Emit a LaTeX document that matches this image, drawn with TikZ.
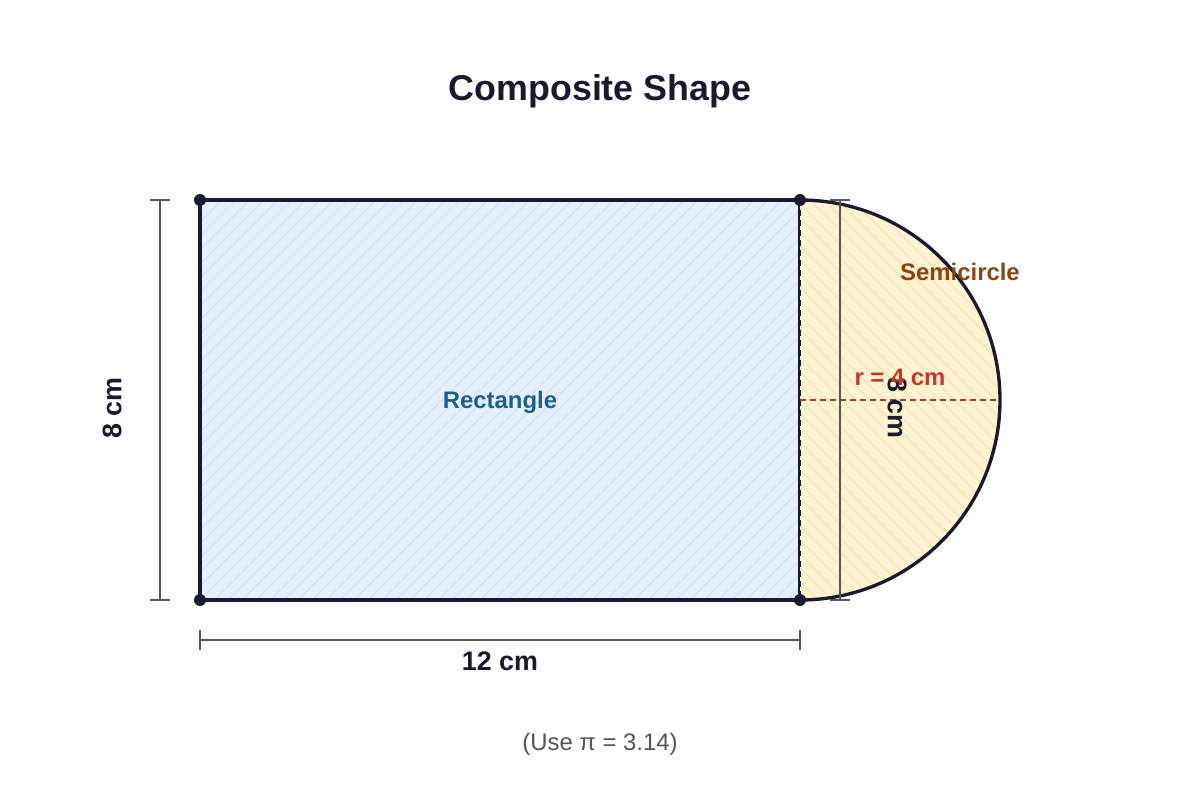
\documentclass[tikz,border=0pt]{standalone}
\usepackage{fontspec}
\setmainfont{Liberation Sans}
\definecolor{navy}{HTML}{1A1A2E}
\definecolor{rectfill}{HTML}{E4F1FC}
\definecolor{recthatch}{HTML}{D4E4F2}
\definecolor{semifill}{HTML}{FFF3D1}
\definecolor{semihatch}{HTML}{F2E2BC}
\definecolor{recttext}{HTML}{1F5F8B}
\definecolor{semitext}{HTML}{8B4513}
\definecolor{rtext}{HTML}{C0392B}
\definecolor{rline}{HTML}{A93C2E}
\definecolor{dimgray}{HTML}{555555}
\begin{document}
\begin{tikzpicture}[x=0.02cm,y=-0.02cm,
  dimline/.style={draw=dimgray,line width=0.9pt},
  outline/.style={draw=navy,line width=1.9pt},
  cornerdot/.style={circle,fill=navy,inner sep=0pt,minimum size=6.8pt},
  dimlabel/.style={font=\fontsize{15.3}{18}\selectfont\bfseries,text=navy},
  shapelabel/.style={font=\fontsize{13.6}{16}\selectfont\bfseries}]
\useasboundingbox (0,0) rectangle (1200,800);
% rectangle
\fill[rectfill] (200,200) rectangle (800,600);
\begin{scope}
  \clip (200,200) rectangle (800,600);
  \foreach \k in {-420,-406,...,620}
    \draw[recthatch,line width=0.6pt] (200+\k,600) -- (600+\k,200);
\end{scope}
\draw[outline] (200,200) rectangle (800,600);
% semicircle
\fill[semifill] (800,200) arc[start angle=-90,end angle=90,radius=200] -- cycle;
\begin{scope}
  \clip (800,200) arc[start angle=-90,end angle=90,radius=200] -- cycle;
  \foreach \k in {-420,-406,...,420}
    \draw[semihatch,line width=0.6pt] (600+\k,200) -- (1000+\k,600);
\end{scope}
\draw[outline] (800,200) arc[start angle=-90,end angle=90,radius=200];
\draw[navy,line width=1.3pt,dash pattern=on 3.4pt off 2.3pt] (800,200) -- (800,600);
% radius
\coordinate (ctr) at (800,400);
\coordinate (rim) at (1000,400);
\draw[rline,line width=0.9pt,dash pattern=on 3.4pt off 2.3pt] (ctr) -- (rim);
% dots
\node[cornerdot] (tl) at (200,200) {};
\node[cornerdot] (tr) at (800,200) {};
\node[cornerdot] (bl) at (200,600) {};
\node[cornerdot] (br) at (800,600) {};
% left dimension
\draw[dimline] (160,200) -- (160,600);
\draw[dimline] (150,200) -- (170,200);
\draw[dimline] (150,600) -- (170,600);
\node[dimlabel,rotate=90] (lh) at (112,408) {8 cm};
% bottom dimension
\draw[dimline] (200,640) -- (800,640);
\draw[dimline] (200,630) -- (200,650);
\draw[dimline] (800,630) -- (800,650);
\node[dimlabel] (bw) at (500,661) {12 cm};
% semicircle dimension
\draw[dimline] (840,200) -- (840,600);
\draw[dimline] (830,200) -- (850,200);
\draw[dimline] (830,600) -- (850,600);
\node[dimlabel,rotate=-90] (sh) at (897,408) {8 cm};
% labels
\node[shapelabel,text=recttext] (rl) at (500,402) {Rectangle};
\node[shapelabel,text=semitext] (sl) at (960,272) {Semicircle};
\node[shapelabel,text=rtext] (rr) at (900,377) {r = 4 cm};
\node[font=\fontsize{20.4}{24}\selectfont\bfseries,text=navy] (title) at (600,91) {Composite Shape};
\node[font=\fontsize{13.6}{16}\selectfont,text=dimgray] (note) at (600,744) {(Use π = 3.14)};
\end{tikzpicture}
\end{document}
